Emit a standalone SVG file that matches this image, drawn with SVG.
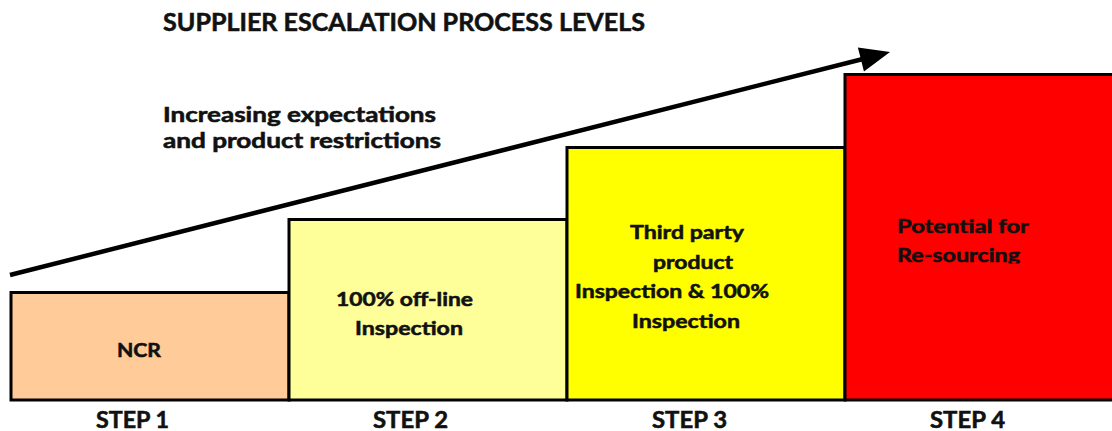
<svg xmlns="http://www.w3.org/2000/svg" width="1112" height="431" viewBox="0 0 1112 431">
  <style>
    text { font-family: Lato, "Open Sans", "Liberation Sans", sans-serif; font-weight: bold; fill: #111; stroke: #111; stroke-width: 0.55; }
    .title { font-size: 24px; }
    .lead { font-size: 20px; }
    .body { font-size: 19.5px; }
    .step { font-size: 23px; }
    .box { stroke: #000; stroke-width: 3; }
    .arrow { stroke: #000; stroke-width: 4.5; fill: none; }
  </style>
  <defs>
    <marker id="head" markerUnits="userSpaceOnUse" markerWidth="31" markerHeight="26" refX="1" refY="12.35" orient="auto" overflow="visible">
      <path d="M0,0 L30,12.35 L0,24.7 z" fill="#000"/>
    </marker>
    <clipPath id="clip4">
      <rect x="846" y="75" width="270" height="188.5"/>
    </clipPath>
  </defs>
  <rect width="1112" height="431" fill="#fff"/>

  <text class="title" x="163" y="31" textLength="482" lengthAdjust="spacingAndGlyphs">SUPPLIER ESCALATION PROCESS LEVELS</text>

  <g id="connectors">
    <line class="arrow" x1="10" y1="275" x2="861.9" y2="59.2" marker-end="url(#head)"/>
  </g>

  <g id="trend-label">
    <text class="lead" x="163" y="122" textLength="273" lengthAdjust="spacingAndGlyphs">Increasing expectations</text>
    <text class="lead" x="163" y="148" textLength="278" lengthAdjust="spacingAndGlyphs">and product restrictions</text>
  </g>

  <g id="step1">
    <rect class="box" x="11" y="292.5" width="278" height="107.5" fill="#FFCC99"/>
    <text class="body" x="117" y="357" textLength="44" lengthAdjust="spacingAndGlyphs">NCR</text>
  </g>

  <g id="step2">
    <rect class="box" x="289" y="219.5" width="278" height="180.5" fill="#FFFF99"/>
    <text class="body" x="336" y="306" textLength="137" lengthAdjust="spacingAndGlyphs">100% off-line</text>
    <text class="body" x="355" y="335" textLength="108" lengthAdjust="spacingAndGlyphs">Inspection</text>
  </g>

  <g id="step3">
    <rect class="box" x="567" y="147.5" width="278" height="252.5" fill="#FFFF00"/>
    <text class="body" x="630" y="239" textLength="114" lengthAdjust="spacingAndGlyphs">Third party</text>
    <text class="body" x="653" y="269" textLength="80" lengthAdjust="spacingAndGlyphs">product</text>
    <text class="body" x="575" y="298" textLength="194" lengthAdjust="spacingAndGlyphs">Inspection &amp; 100%</text>
    <text class="body" x="632" y="328" textLength="108" lengthAdjust="spacingAndGlyphs">Inspection</text>
  </g>

  <g id="step4">
    <rect class="box" x="845" y="74.5" width="280" height="325.5" fill="#FF0000"/>
    <g clip-path="url(#clip4)">
      <text class="body" x="897" y="233" textLength="132" lengthAdjust="spacingAndGlyphs">Potential for</text>
      <text class="body" x="897" y="262" textLength="123" lengthAdjust="spacingAndGlyphs">Re-sourcing</text>
    </g>
  </g>

  <g id="step-labels">
    <text class="step" x="96" y="428" textLength="73" lengthAdjust="spacingAndGlyphs">STEP 1</text>
    <text class="step" x="373" y="428" textLength="75" lengthAdjust="spacingAndGlyphs">STEP 2</text>
    <text class="step" x="652" y="428" textLength="75" lengthAdjust="spacingAndGlyphs">STEP 3</text>
    <text class="step" x="930" y="428" textLength="75" lengthAdjust="spacingAndGlyphs">STEP 4</text>
  </g>
</svg>
